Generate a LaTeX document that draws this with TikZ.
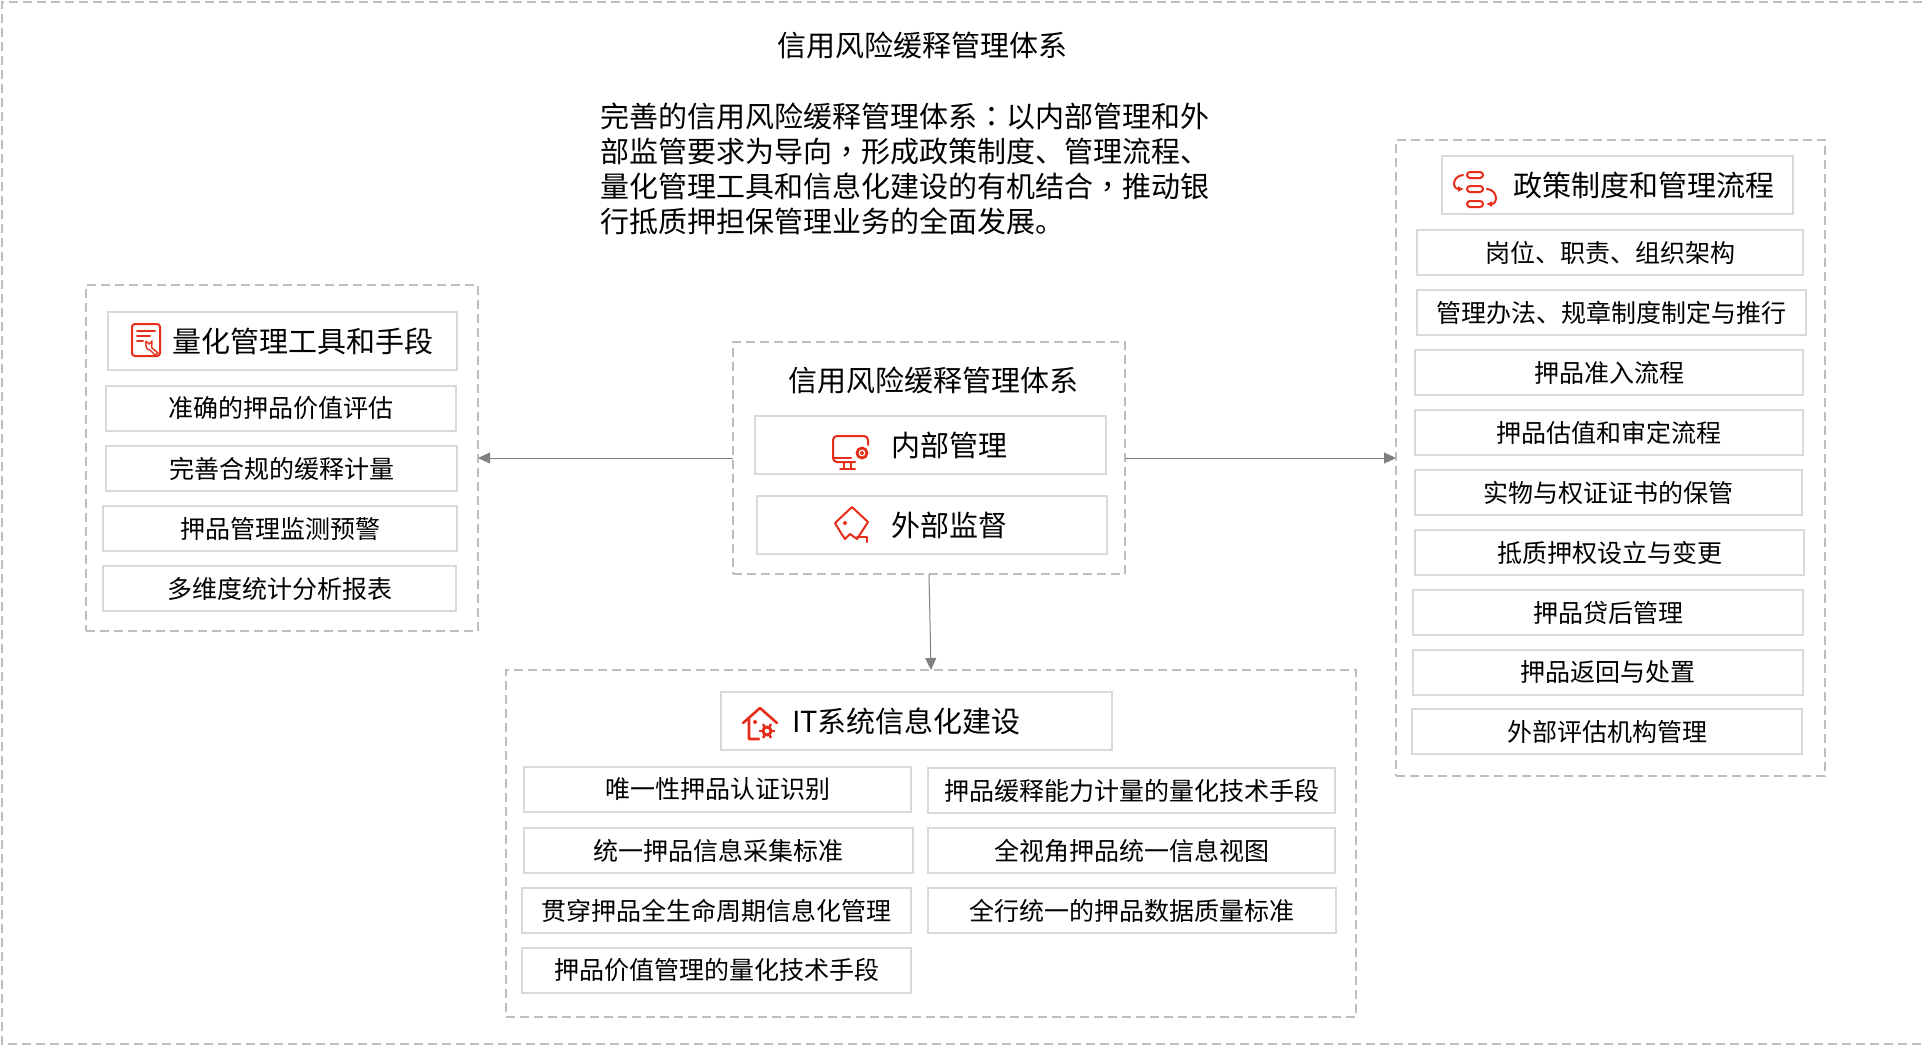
\documentclass[tikz,border=0pt]{standalone}
\usepackage{fontspec}
\setmainfont{Noto Sans CJK SC}
\newfontfamily\puncfont{Noto Sans CJK TC}
\usetikzlibrary{arrows.meta,positioning}
\definecolor{PanelGray}{RGB}{190,190,190}
\definecolor{BoxGray}{RGB}{217,217,217}
\definecolor{LinkGray}{RGB}{128,128,128}
\definecolor{IconRed}{RGB}{230,45,25}
\tikzset{
  panel/.style={draw=PanelGray, line width=0.8pt, dash pattern=on 4.5pt off 2.5pt,
    anchor=north west, inner sep=0pt, outer sep=0pt},
  titlebox/.style={draw=BoxGray, line width=1pt, fill=white, anchor=north west,
    inner sep=0pt, outer sep=0pt, minimum height=29pt, font=\fontsize{14.5pt}{17.5pt}\selectfont},
  itembox/.style={draw=BoxGray, line width=1pt, fill=white, inner sep=0pt, outer sep=0pt,
    minimum height=22.5pt, font=\fontsize{12.5pt}{15pt}\selectfont},
  bigtext/.style={inner sep=0pt, font=\fontsize{14.5pt}{17.5pt}\selectfont},
  arrow/.style={-{Triangle[length=6pt,width=5.5pt]}, line width=0.5pt, LinkGray},
  icon/.style={IconRed, line width=1pt, line join=round, line cap=round}
}
\begin{document}
\begin{tikzpicture}[x=0.5pt,y=-0.5pt,node distance=7.5pt]
\useasboundingbox (0,0) rectangle (1922,1045);
\draw[panel] (1922,2) -- (2,2) -- (2,1044) -- (1922,1044);
\node[bigtext] (maintitle) at (922,45) {信用风险缓释管理体系};
\node[bigtext, anchor=north west, align=left] (summary) at (600,102) {完善的信用风险缓释管理体系{\puncfont ：}以内部管理和外\\部监管要求为导向{\puncfont ，}形成政策制度、管理流程、\\量化管理工具和信息化建设的有机结合{\puncfont ，}推动银\\行抵质押担保管理业务的全面发展。};

% center
\node[panel, minimum width=196pt, minimum height=116pt] (center) at (733,342) {};
\node[bigtext] (centertitle) at (933,380) {信用风险缓释管理体系};
\node[titlebox, minimum width=175.5pt] (internal) at (755,416) {\hspace*{19pt}内部管理};
\node[titlebox, minimum width=175pt] (external) at (757,496) {\hspace*{17.5pt}外部监督};

% left
\node[panel, minimum width=196pt, minimum height=173pt] (tools) at (86,285) {};
\node[titlebox, minimum width=174.5pt] (toolstitle) at (108,312) {\hspace*{20.5pt}量化管理工具和手段};
\node[itembox, minimum width=175pt, anchor=north west] (tool1) at (106,386) {准确的押品价值评估};
\node[itembox, minimum width=175.5pt, below=7.5pt of tool1.south west, anchor=north west] (tool2) {完善合规的缓释计量};
\node[itembox, minimum width=177pt, below=7.5pt of tool2.south west, anchor=north west, xshift=-1.5pt] (tool3) {押品管理监测预警};
\node[itembox, minimum width=176.5pt, below=7.5pt of tool3.south west, anchor=north west] (tool4) {多维度统计分析报表};

% right
\node[panel, minimum width=214.5pt, minimum height=318pt] (policy) at (1396,140) {};
\node[titlebox, minimum width=175.5pt] (policytitle) at (1442,156) {\hspace*{26.5pt}政策制度和管理流程};
\node[itembox, minimum width=193pt, anchor=north west] (policy1) at (1417,230) {岗位、职责、组织架构};
\node[itembox, minimum width=194.5pt, below=7.5pt of policy1.south west, anchor=north west] (policy2) {管理办法、规章制度制定与推行};
\node[itembox, minimum width=194pt, below=7.5pt of policy2.south west, anchor=north west, xshift=-1pt] (policy3) {押品准入流程};
\node[itembox, minimum width=194pt, below=7.5pt of policy3.south west, anchor=north west] (policy4) {押品估值和审定流程};
\node[itembox, minimum width=193.5pt, below=7.5pt of policy4.south west, anchor=north west] (policy5) {实物与权证证书的保管};
\node[itembox, minimum width=194.5pt, below=7.5pt of policy5.south west, anchor=north west] (policy6) {抵质押权设立与变更};
\node[itembox, minimum width=195pt, below=7.5pt of policy6.south west, anchor=north west, xshift=-1pt] (policy7) {押品贷后管理};
\node[itembox, minimum width=195pt, below=7.5pt of policy7.south west, anchor=north west] (policy8) {押品返回与处置};
\node[itembox, minimum width=195pt, below=7pt of policy8.south west, anchor=north west, xshift=-0.5pt] (policy9) {外部评估机构管理};

% bottom
\node[panel, minimum width=425pt, minimum height=173.5pt] (system) at (506,670) {};
\node[titlebox, minimum width=195.5pt] (systemtitle) at (721,692) {IT系统信息化建设\hspace*{10pt}};
\node[itembox, minimum width=193.5pt, anchor=north west] (system1) at (524,767) {唯一性押品认证识别};
\node[itembox, minimum width=194.5pt, below=8pt of system1.south west, anchor=north west] (system2) {统一押品信息采集标准};
\node[itembox, minimum width=194.5pt, below=7.5pt of system2.south west, anchor=north west, xshift=-1pt] (system3) {贯穿押品全生命周期信息化管理};
\node[itembox, minimum width=194.5pt, below=7.5pt of system3.south west, anchor=north west] (system4) {押品价值管理的量化技术手段};
\node[itembox, minimum width=203.5pt, anchor=north west] (system5) at (928,768) {押品缓释能力计量的量化技术手段};
\node[itembox, minimum width=203.5pt, below=7.5pt of system5.south west, anchor=north west] (system6) {全视角押品统一信息视图};
\node[itembox, minimum width=204pt, below=7.5pt of system6.south west, anchor=north west] (system7) {全行统一的押品数据质量标准};

% links
\draw[arrow] (center.west) -- (tools.east);
\draw[arrow] (center.east) -- (policy.west);
\draw[arrow] (center.south) -- (system.north);

% icons
\begin{scope}[icon]
  \draw[rounded corners=1.5pt] (132,324) rectangle (160,356);
  \draw (137,331) -- (155,331) (137,336) -- (150,336) (137,341) -- (143,341);
  \draw[line width=0.7pt] (146,341) -- (149,344) -- (152,341) .. controls (152,347) and (151,346) .. (152,348) -- (158,353) -- (155,355) -- (150,350) .. controls (147,350) and (145,347) .. (146,341);
  \draw[rounded corners=2pt] (855,462) -- (833,462) -- (833,436) -- (868,436) -- (868,445);
  \draw (834,458) -- (851,458) (844,463) -- (844,468) (851,463) -- (851,468) (840,469) -- (855,469);
  \draw[line width=1.4pt] (862,453) circle[radius=5];
  \draw[line width=0.6pt] (862,453) circle[radius=1.5];
  \draw (852,507) -- (868,522) -- (857,539) -- (850,534) -- (845,539) -- (841,533) -- (835,523) -- cycle;
  \draw (857,537) -- (867,537) -- (867,542);
  \fill (845,523) circle[radius=2];
  \draw[rounded corners=1.5pt] (1467,172) rectangle (1483,178);
  \draw[rounded corners=1.5pt] (1467,186) rectangle (1483,192);
  \draw[rounded corners=1.5pt] (1467,201) rectangle (1483,207);
  \draw[-{Latex[length=3pt,width=3pt]}] (1463,175) .. controls (1452,176) and (1452,189) .. (1464,189);
  \draw[-{Latex[length=3pt,width=3pt]}] (1487,189) .. controls (1498,190) and (1498,204) .. (1486,204);
  \draw[line width=1.3pt] (743,723) -- (760,708) -- (777,723) (749,719) -- (749,739) -- (759,739);
  \fill (755,722) circle[radius=2];
  \fill[white] (767,731) circle[radius=10];
  \draw[line width=1.5pt] (767,731) circle[radius=4];
  \foreach \a in {0,60,...,300} \draw[line width=1.2pt, line cap=butt] (767,731) ++(\a:5) -- ++(\a:3);
\end{scope}
\end{tikzpicture}
\end{document}
